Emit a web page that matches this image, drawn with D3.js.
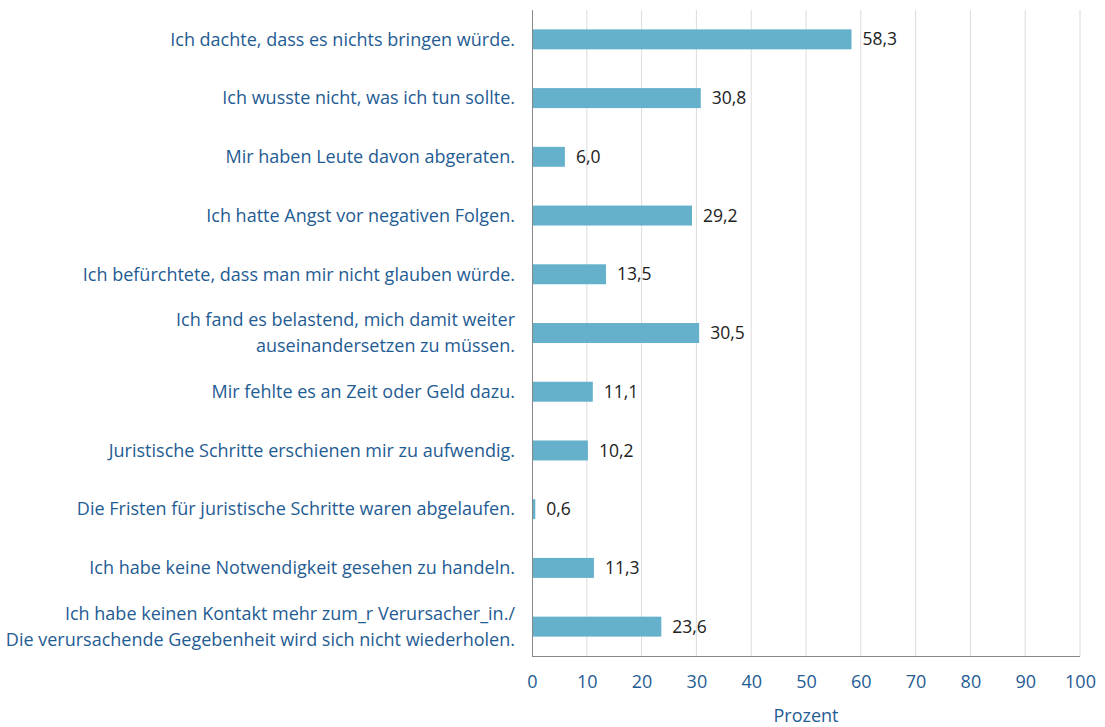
<!DOCTYPE html>
<html>
<head>
<meta charset="utf-8">
<script src="https://cdn.jsdelivr.net/npm/d3@7"></script>
<style>
  body { margin: 0; background: #fff; }
  svg text { font-family: "Open Sans", sans-serif; }
</style>
</head>
<body>
<div id="chart"></div>
<script>
// answers (each entry can have two lines)
var categories = [
	["Ich dachte, dass es nichts bringen würde."],
	["Ich wusste nicht, was ich tun sollte."],
	["Mir haben Leute davon abgeraten."],
	["Ich hatte Angst vor negativen Folgen."],
	["Ich befürchtete, dass man mir nicht glauben würde."],
	["Ich fand es belastend, mich damit weiter", "auseinandersetzen zu müssen."],
	["Mir fehlte es an Zeit oder Geld dazu."],
	["Juristische Schritte erschienen mir zu aufwendig."],
	["Die Fristen für juristische Schritte waren abgelaufen."],
	["Ich habe keine Notwendigkeit gesehen zu handeln."],
	["Ich habe keinen Kontakt mehr zum_r Verursacher_in./", "Die verursachende Gegebenheit wird sich nicht wiederholen."]
];
var values = [58.3, 30.8, 6.0, 29.2, 13.5, 30.5, 11.1, 10.2, 0.6, 11.3, 23.6];
var xTicks = [0, 10, 20, 30, 40, 50, 60, 70, 80, 90, 100];
var xTitle = "Prozent";

var width = 1105, height = 727;
var margin = {top: 10, right: 25, bottom: 71, left: 532};

var svg = d3.select("#chart").append("svg")
	.attr("width", width)
	.attr("height", height);

var x = d3.scaleLinear().domain([0, 100]).range([margin.left, width - margin.right]);
var y = d3.scaleBand()
	.domain(d3.range(categories.length))
	.range([margin.top, height - margin.bottom])
	.paddingInner(0.66).paddingOuter(0.33);

var blue = "#1f5c93";

// grid lines
svg.append("g").selectAll("line")
	.data(xTicks.slice(1))
	.enter().append("line")
		.attr("x1", function(d){ return x(d) }).attr("x2", function(d){ return x(d) })
		.attr("y1", margin.top).attr("y2", height - margin.bottom)
		.attr("stroke", "#dcdcdc").attr("stroke-width", 1);

// bars
svg.append("g").selectAll("rect")
	.data(values)
	.enter().append("rect")
		.attr("x", x(0))
		.attr("y", function(d, i){ return y(i) })
		.attr("width", function(d){ return x(d) - x(0) })
		.attr("height", y.bandwidth())
		.attr("fill", "#65b1cb");

// value labels
svg.append("g").selectAll("text")
	.data(values)
	.enter().append("text")
		.attr("x", function(d){ return x(d) + 11 })
		.attr("y", function(d, i){ return y(i) + y.bandwidth() / 2 })
		.attr("dy", "0.35em")
		.attr("font-size", 17.5)
		.attr("fill", "#222")
		.text(function(d){ return d.toFixed(1).replace(".", ",") });

// axis lines
svg.append("line")
	.attr("x1", x(0) + 0.5).attr("x2", x(0) + 0.5)
	.attr("y1", margin.top).attr("y2", height - margin.bottom)
	.attr("stroke", "#888");
svg.append("line")
	.attr("x1", x(0)).attr("x2", x(100))
	.attr("y1", height - margin.bottom + 0.5).attr("y2", height - margin.bottom + 0.5)
	.attr("stroke", "#888");

// x axis ticks
var xAxis = svg.append("g")
	.attr("transform", "translate(0," + (height - margin.bottom) + ")")
	.call(d3.axisBottom(x).tickValues(xTicks).tickSize(0).tickPadding(19));
xAxis.select(".domain").remove();
xAxis.selectAll("text")
	.attr("font-family", "Open Sans, sans-serif")
	.attr("font-size", 18)
	.attr("fill", blue);

svg.append("text")
	.attr("x", x(50))
	.attr("y", 722)
	.attr("text-anchor", "middle")
	.attr("font-size", 18)
	.attr("fill", blue)
	.text(xTitle);

// category labels
var lab = svg.append("g").selectAll("text")
	.data(categories)
	.enter().append("text")
		.attr("text-anchor", "end")
		.attr("font-size", 18)
		.attr("fill", blue)
		.attr("y", function(d, i){ return y(i) + y.bandwidth() / 2 - (d.length - 1) * 13 });
lab.selectAll("tspan")
	.data(function(d){ return d })
	.enter().append("tspan")
		.attr("x", 515)
		.attr("dy", function(d, j){ return j == 0 ? "0.35em" : 26 })
		.text(function(d){ return d });
</script>
</body>
</html>
